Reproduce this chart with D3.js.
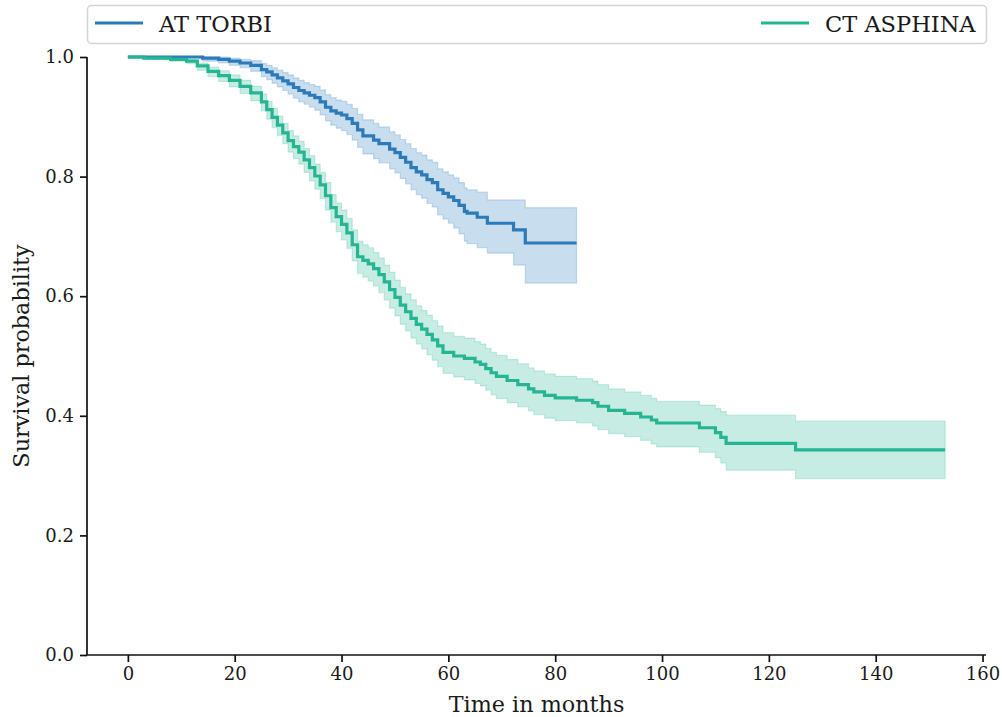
<!DOCTYPE html>
<html>
<head>
<meta charset="utf-8">
<script src="https://cdn.jsdelivr.net/npm/d3@7"></script>
<style>
  html, body { margin: 0; padding: 0; background: #fff; }
  svg { display: block; font-family: "DejaVu Serif", serif; }
</style>
</head>
<body>
<svg id="chart" width="1002" height="717"></svg>
<script>
// Kaplan-Meier estimates with 95% confidence bands, per group

const seriesNames = ["AT TORBI", "CT ASPHINA"];

const torbiTime  = [0, 13, 14, 17, 19, 21, 23, 25, 26, 27, 28, 29, 30, 31, 32, 33, 34, 35, 36, 37, 38, 39, 40, 41, 42, 43, 44, 46, 47, 49, 50, 51, 52, 53, 54, 55, 56, 57, 58, 59, 60, 61, 62, 63, 63.5, 65.4, 67.3, 72.2, 74.4, 84];
const torbiSurv  = [1.0, 1.0, 0.998, 0.996, 0.993, 0.990, 0.986, 0.979, 0.975, 0.970, 0.965, 0.960, 0.955, 0.949, 0.944, 0.940, 0.936, 0.932, 0.925, 0.916, 0.910, 0.906, 0.903, 0.897, 0.889, 0.878, 0.868, 0.861, 0.855, 0.846, 0.840, 0.832, 0.824, 0.815, 0.808, 0.803, 0.795, 0.790, 0.778, 0.772, 0.766, 0.760, 0.752, 0.742, 0.739, 0.732, 0.722, 0.711, 0.689, 0.689];
const torbiUpper = [1.0, 1.0, 1.0, 1.0, 0.998, 0.996, 0.994, 0.989, 0.986, 0.982, 0.978, 0.974, 0.970, 0.965, 0.961, 0.957, 0.954, 0.951, 0.945, 0.937, 0.932, 0.928, 0.926, 0.921, 0.914, 0.904, 0.895, 0.889, 0.883, 0.875, 0.870, 0.862, 0.855, 0.847, 0.840, 0.836, 0.828, 0.824, 0.813, 0.808, 0.803, 0.798, 0.790, 0.781, 0.778, 0.774, 0.761, 0.761, 0.748, 0.748];
const torbiLower = [1.0, 1.0, 0.993, 0.990, 0.986, 0.982, 0.976, 0.967, 0.962, 0.956, 0.950, 0.944, 0.938, 0.931, 0.925, 0.921, 0.916, 0.911, 0.903, 0.893, 0.886, 0.881, 0.877, 0.870, 0.861, 0.849, 0.838, 0.830, 0.823, 0.813, 0.806, 0.797, 0.788, 0.778, 0.770, 0.764, 0.755, 0.749, 0.736, 0.729, 0.722, 0.714, 0.704, 0.692, 0.688, 0.681, 0.672, 0.652, 0.622, 0.622];

const asphinaTime  = [0, 3, 8, 11, 13, 15, 17, 19, 21, 23, 25, 26, 27, 28, 29, 30, 31, 32, 33, 34, 35, 36, 37, 38, 39, 40, 41, 42, 43, 44, 45, 46, 47, 48, 49, 50, 51, 52, 53, 54, 55, 56, 57, 58, 59, 61, 63, 65, 66, 67, 68, 69, 71, 73, 75, 76, 78, 80, 84, 87, 88, 90, 93, 96, 98, 99, 107, 110, 111, 112, 125, 153];
const asphinaSurv  = [1.0, 0.998, 0.996, 0.993, 0.985, 0.976, 0.969, 0.961, 0.951, 0.940, 0.925, 0.912, 0.899, 0.886, 0.873, 0.860, 0.850, 0.841, 0.828, 0.815, 0.801, 0.786, 0.768, 0.748, 0.733, 0.720, 0.706, 0.686, 0.666, 0.660, 0.654, 0.646, 0.636, 0.624, 0.611, 0.598, 0.585, 0.574, 0.563, 0.553, 0.545, 0.536, 0.527, 0.517, 0.506, 0.500, 0.496, 0.490, 0.486, 0.479, 0.472, 0.466, 0.459, 0.452, 0.445, 0.440, 0.434, 0.430, 0.426, 0.422, 0.416, 0.409, 0.404, 0.398, 0.393, 0.388, 0.380, 0.372, 0.364, 0.354, 0.343, 0.343];
const asphinaUpper = [1.0, 0.999, 0.998, 0.996, 0.990, 0.983, 0.977, 0.970, 0.961, 0.951, 0.938, 0.926, 0.914, 0.901, 0.889, 0.877, 0.868, 0.859, 0.847, 0.835, 0.821, 0.807, 0.790, 0.770, 0.756, 0.744, 0.730, 0.711, 0.692, 0.686, 0.681, 0.673, 0.664, 0.652, 0.640, 0.627, 0.615, 0.604, 0.594, 0.584, 0.576, 0.568, 0.559, 0.550, 0.539, 0.533, 0.530, 0.524, 0.520, 0.513, 0.506, 0.501, 0.494, 0.487, 0.480, 0.475, 0.470, 0.466, 0.462, 0.458, 0.452, 0.445, 0.440, 0.434, 0.429, 0.424, 0.418, 0.412, 0.407, 0.401, 0.391, 0.391];
const asphinaLower = [1.0, 0.996, 0.993, 0.989, 0.978, 0.967, 0.959, 0.950, 0.939, 0.927, 0.910, 0.896, 0.882, 0.869, 0.855, 0.841, 0.830, 0.821, 0.807, 0.793, 0.779, 0.763, 0.744, 0.724, 0.708, 0.694, 0.680, 0.659, 0.638, 0.632, 0.625, 0.617, 0.606, 0.594, 0.580, 0.567, 0.553, 0.542, 0.530, 0.520, 0.512, 0.502, 0.493, 0.482, 0.471, 0.465, 0.460, 0.454, 0.450, 0.443, 0.435, 0.429, 0.422, 0.415, 0.408, 0.402, 0.396, 0.392, 0.388, 0.383, 0.377, 0.370, 0.365, 0.359, 0.353, 0.348, 0.339, 0.330, 0.321, 0.309, 0.295, 0.295];

const xTicks = [0, 20, 40, 60, 80, 100, 120, 140, 160];
const yTicks = [0.0, 0.2, 0.4, 0.6, 0.8, 1.0];
const xLabel = "Time in months";
const yLabel = "Survival probability";

const colors = ["#2b7bba", "#25b592"];

const svg = d3.select("#chart");
const plot = { left: 87, right: 986, top: 57, bottom: 655 };

const x = d3.scaleLinear().domain([-7.65, 160.65]).range([plot.left, plot.right]);
const y = d3.scaleLinear().domain([0, 1]).range([plot.bottom, plot.top]);

function rows(t, s, lo, hi) {
  return t.map((d, i) => ({ t: d, s: s[i], lo: lo[i], hi: hi[i] }));
}
const groups = [
  rows(torbiTime, torbiSurv, torbiLower, torbiUpper),
  rows(asphinaTime, asphinaSurv, asphinaLower, asphinaUpper)
];

// confidence bands first, then the survival steps on top
const area = d3.area()
  .curve(d3.curveStepAfter)
  .x(d => x(d.t))
  .y0(d => y(d.lo))
  .y1(d => y(d.hi));
const line = d3.line()
  .curve(d3.curveStepAfter)
  .x(d => x(d.t))
  .y(d => y(d.s));

groups.forEach((g, i) => {
  svg.append("path")
    .datum(g)
    .attr("d", area)
    .attr("fill", colors[i])
    .attr("fill-opacity", 0.26)
    .attr("stroke", colors[i])
    .attr("stroke-opacity", 0.22)
    .attr("stroke-width", 1.2);
});
groups.forEach((g, i) => {
  svg.append("path")
    .datum(g)
    .attr("d", line)
    .attr("fill", "none")
    .attr("stroke", colors[i])
    .attr("stroke-width", 3.2);
});

// axes
const xAxis = svg.append("g")
  .attr("transform", `translate(0,${plot.bottom})`)
  .call(d3.axisBottom(x).tickValues(xTicks).tickFormat(d3.format("d")).tickSize(7).tickPadding(5));
const yAxis = svg.append("g")
  .attr("transform", `translate(${plot.left},0)`)
  .call(d3.axisLeft(y).tickValues(yTicks).tickFormat(d3.format(".1f")).tickSize(7).tickPadding(6));

[xAxis, yAxis].forEach(a => {
  a.select(".domain").attr("stroke", "#111").attr("stroke-width", 1.7);
  a.selectAll(".tick line").attr("stroke", "#111").attr("stroke-width", 1.7);
  a.selectAll(".tick text")
    .attr("fill", "#1a1a1a")
    .style("font-family", "'DejaVu Serif', serif")
    .style("font-size", "18px");
});
xAxis.select(".domain").attr("d", `M${plot.left},0H${plot.right}`);
yAxis.select(".domain").attr("d", `M0,${plot.bottom}V${plot.top}`);

svg.append("text")
  .attr("x", (plot.left + plot.right) / 2)
  .attr("y", 712)
  .attr("text-anchor", "middle")
  .attr("fill", "#1a1a1a")
  .style("font-size", "22.3px")
  .text(xLabel);

svg.append("text")
  .attr("transform", `translate(29,${(plot.top + plot.bottom) / 2}) rotate(-90)`)
  .attr("text-anchor", "middle")
  .attr("fill", "#1a1a1a")
  .style("font-size", "22.3px")
  .text(yLabel);

// legend spread across the top of the plot
const legend = svg.append("g");
legend.append("rect")
  .attr("x", 87.5).attr("y", 5.5)
  .attr("width", 899).attr("height", 38)
  .attr("rx", 4)
  .attr("fill", "#fff")
  .attr("stroke", "#d4d4d4")
  .attr("stroke-width", 1.5);

const legendItems = [
  { name: seriesNames[0], color: colors[0], x0: 95 },
  { name: seriesNames[1], color: colors[1], x0: 761 }
];
legendItems.forEach(it => {
  legend.append("line")
    .attr("x1", it.x0).attr("x2", it.x0 + 48)
    .attr("y1", 23).attr("y2", 23)
    .attr("stroke", it.color)
    .attr("stroke-width", 3.2);
  legend.append("text")
    .attr("x", it.x0 + 64)
    .attr("y", 31.5)
    .attr("fill", "#1a1a1a")
    .style("font-size", "22.5px")
    .text(it.name);
});
</script>
</body>
</html>
